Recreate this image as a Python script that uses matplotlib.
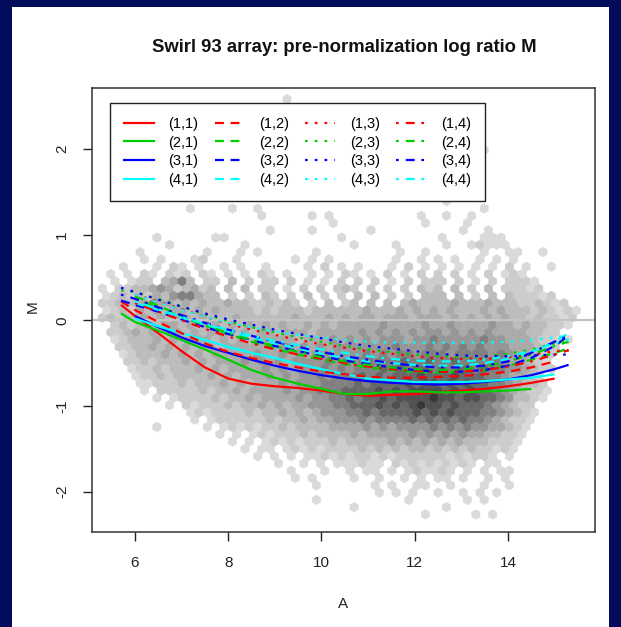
import numpy as np
import matplotlib
matplotlib.use("Agg")
import matplotlib.pyplot as plt
from matplotlib.colors import ListedColormap
from matplotlib.lines import Line2D
from matplotlib.patches import Rectangle

plt.rcParams['font.family'] = ['Liberation Sans', 'DejaVu Sans']

# ---------------- data ----------------
title = "Swirl 93 array: pre-normalization log ratio M"
x_label = "A"
y_label = "M"
x_ticks = [6, 8, 10, 12, 14]
y_ticks = [-2, -1, 0, 1, 2]

# hexbin background: grey level (1 light .. 9 dark) per hexagon, keyed by hex row
HEX_X0, HEX_DX = 5.3, 0.18      # column spacing in A
HEX_Y0, HEX_DY = -2.35, 0.085   # row spacing in M
hex_rows = {
    58: "..........|..........|..1.......",
    51: "..........|..........|..........|..........|.....1....",
    44: "..........|..........|..........|..........|.1........",
    43: "..........|1....1..1.|..........|..........|.....1....",
    42: "..........|.........1|.....1.1..|........1.|.1..1.....",
    41: "..........|..........|.......1..|........1.|...1......",
    40: "..........|..........|1....1....|..1.......|...1..1...",
    39: "......1...|...11.....|........1.|..........|1....111..",
    38: "........1.|.......1..|..........|1....1....|.1..12111.",
    37: "....1.....|..1...1.1.|.....1....|.....1..1.|.....1..11|..1.....",
    36: ".....1.1..|.12...1...|...1.1.1..|.....1..1.|1.1..1.1.1|........",
    35: "..1...1.21|.1..1.1..1|....1.2.1.|1...1.2.1.|1.1.1.1.2.|1..1....",
    34: ".1.1.21.21|2.21.1.1.2|1.1..1.1.2|1.1.2.1.2.|2.2.1.2.12|1.......",
    33: ".1.122.346|3.22.3.2.2|2.2.1.1.2.|2.2.1.2.22|2.2.1.2.22|21......",
    32: "1.22334542|3423.3.3.2|2.1.2.2.23|2.2.2.2.32|3.3.2.3.22|212.....",
    31: "1232324356|6433.2.2.3|2.2.3.2.2.|3.3.2.2.33|3.3.2.3.32|2212....",
    30: "2233345443|4343343322|3232.2.3.2|3.3.3.3433|3343334333|223212..",
    29: "1232434344|3434333323|2333233333|3433343434|3433343433|3232121.",
    28: "2323343434|4343334333|3334333434|3443444344|4343434343|3232212.",
    27: ".232343443|4344343434|3433434344|4445444454|4544445443|433221..",
    26: ".223434344|3434443434|4344434444|4545454545|5454545444|43322...",
    25: ".123334343|4443434344|4443444545|4545554556|5555565544|432211..",
    24: "..22334343|4344344444|4454545455|5555565556|5656565554|44322...",
    23: "..12333434|3434444454|4545455555|5656566566|6566665654|4322....",
    22: "...2232333|4343444545|4545555656|5666667667|6676666654|4321....",
    21: "...1223233|3434344445|4545556565|6667676776|7677676655|4322....",
    20: "....122323|3334343444|5454556566|6767677787|7787776654|432.....",
    19: "....112223|2333434344|4545556666|7677778788|7878776654|332.....",
    18: ".....1.222|2232334344|4454556667|7778787888|8787877654|3221....",
    17: "......1.12|2223233434|4445455667|6778788889|8878877653|321.....",
    16: "........1.|2122232334|3434455566|7778787898|8787776543|22......",
    15: "..........|1212222323|3434345556|6767777878|7877766543|21......",
    14: "..........|.1.1222222|3233434455|5656666767|6767665432|21......",
    13: "......1...|..1.121212|2323333444|4545455556|5656554432|1.......",
    12: "..........|....1.1.12|1222323333|4344444545|4545443322|1.......",
    11: "..........|.....1.1.1|2121222323|3333434343|4343332221|........",
    10: "..........|.......1.1|1.12121222|2323232332|3232322121|........",
    9:  "..........|........1.|1.1.112121|2212122222|2121221.1.|........",
    8:  "..........|..........|.1..1.1.11|1211.21212|12121.11..|........",
    7:  "..........|..........|..1...1..1|.11.1.1211|21.1.1.11.|........",
    6:  "..........|..........|...1.1....|1..1..1.1.|11.1..1.1.|........",
    5:  "..........|..........|.....1....|..1.1..11.|.1...1..1.|........",
    4:  "..........|..........|..........|...1.1.1..|1..1.1.1..|........",
    3:  "..........|..........|.....1....|......1...|...1.1....|........",
    2:  "..........|..........|..........|1.........|.1........|........",
    1:  "..........|..........|..........|........1.|....1.1...|........",
}

# loess curves, one per print-tip group (row, column)
curve_A = [5.7, 6.0, 6.5, 7.0, 7.5, 8.0, 8.5, 9.0, 9.5, 10.0, 10.5, 11.0,
           11.5, 12.0, 12.5, 13.0, 13.5, 14.0, 14.5, 15.0, 15.3]
nan = np.nan
curve_11 = [0.18, 0.05, -0.15, -0.36, -0.55, -0.68, -0.74, -0.77, -0.79, -0.82, -0.86, -0.88,
            -0.87, -0.86, -0.84, -0.82, -0.80, -0.77, -0.73, -0.68, nan]
curve_21 = [0.08, -0.02, -0.12, -0.23, -0.34, -0.46, -0.58, -0.67, -0.74, -0.80, -0.86, -0.86,
            -0.83, -0.83, -0.84, -0.84, -0.83, -0.82, -0.80, nan, nan]
curve_31 = [nan, 0.05, -0.08, -0.20, -0.30, -0.38, -0.46, -0.53, -0.59, -0.64, -0.68, -0.71,
            -0.73, -0.74, -0.75, -0.74, -0.72, -0.69, -0.64, -0.57, -0.52]
curve_41 = [nan, 0.02, -0.07, -0.15, -0.23, -0.31, -0.38, -0.44, -0.51, -0.57, -0.63, -0.68,
            -0.70, -0.72, -0.72, -0.72, -0.71, -0.69, -0.67, -0.63, nan]
curve_12 = [0.22, 0.12, -0.02, -0.15, -0.27, -0.37, -0.44, -0.50, -0.55, -0.60, -0.63, -0.66,
            -0.67, -0.67, -0.66, -0.65, -0.63, -0.60, -0.55, -0.48, nan]
curve_22 = [nan, 0.28, 0.17, 0.05, -0.06, -0.16, -0.25, -0.33, -0.40, -0.46, -0.51, -0.55,
            -0.58, -0.60, -0.61, -0.60, -0.58, -0.53, -0.46, -0.38, -0.33]
curve_32 = [0.23, 0.18, 0.10, 0.01, -0.08, -0.16, -0.23, -0.30, -0.36, -0.42, -0.47, -0.51,
            -0.55, -0.58, -0.60, -0.60, -0.58, -0.53, -0.44, -0.30, -0.18]
curve_42 = [nan, 0.20, 0.12, 0.03, -0.05, -0.13, -0.20, -0.27, -0.33, -0.39, -0.44, -0.48,
            -0.50, -0.52, -0.53, -0.53, -0.50, -0.45, -0.37, -0.25, -0.15]
curve_13 = [nan, 0.30, 0.22, 0.13, 0.04, -0.04, -0.11, -0.17, -0.23, -0.28, -0.32, -0.36,
            -0.39, -0.42, -0.44, -0.45, -0.45, -0.43, -0.40, -0.36, -0.35]
curve_23 = [0.35, 0.33, 0.25, 0.16, 0.07, -0.01, -0.08, -0.14, -0.20, -0.25, -0.30, -0.34,
            -0.37, -0.40, -0.42, -0.43, -0.42, -0.39, -0.34, -0.27, -0.24]
curve_33 = [0.38, 0.33, 0.24, 0.16, 0.08, 0.01, -0.05, -0.11, -0.16, -0.21, -0.26, -0.30,
            -0.33, -0.36, -0.39, -0.41, -0.42, -0.42, -0.41, -0.40, -0.40]
curve_43 = [nan, 0.30, 0.21, 0.12, 0.04, -0.03, -0.08, -0.13, -0.17, -0.20, -0.23, -0.25,
            -0.26, -0.26, -0.26, -0.26, -0.26, -0.25, -0.23, -0.20, -0.18]
curve_14 = [nan, 0.20, 0.10, 0.00, -0.10, -0.19, -0.27, -0.34, -0.40, -0.45, -0.50, -0.54,
            -0.57, -0.59, -0.60, -0.60, -0.58, -0.54, -0.48, -0.40, -0.35]
curve_24 = [nan, 0.25, 0.14, 0.04, -0.06, -0.15, -0.23, -0.30, -0.37, -0.43, -0.48, -0.52,
            -0.55, -0.57, -0.58, -0.57, -0.54, -0.48, -0.40, -0.30, -0.25]
curve_34 = [0.30, 0.25, 0.15, 0.06, -0.03, -0.11, -0.18, -0.25, -0.31, -0.37, -0.42, -0.46,
            -0.50, -0.53, -0.55, -0.55, -0.53, -0.48, -0.38, -0.25, -0.18]
curve_44 = [nan, 0.22, 0.13, 0.04, -0.04, -0.11, -0.18, -0.24, -0.29, -0.34, -0.38, -0.42,
            -0.45, -0.47, -0.48, -0.48, -0.46, -0.42, -0.36, -0.27, -0.22]

curve_labels = ["(1,1)", "(2,1)", "(3,1)", "(4,1)",
                "(1,2)", "(2,2)", "(3,2)", "(4,2)",
                "(1,3)", "(2,3)", "(3,3)", "(4,3)",
                "(1,4)", "(2,4)", "(3,4)", "(4,4)"]
curve_values = [curve_11, curve_21, curve_31, curve_41,
                curve_12, curve_22, curve_32, curve_42,
                curve_13, curve_23, curve_33, curve_43,
                curve_14, curve_24, curve_34, curve_44]

# ---------------- styles ----------------
row_colors = ["#ff0000", "#00cd00", "#0000ff", "#00ffff"]
col_styles = ["-", (0, (4, 3)), (0, (1.2, 3.2)), (0, (1.2, 3.2, 4, 3))]
grey_levels = [218, 204, 188, 170, 150, 128, 104, 80, 55]
NAVY = "#030b5c"

W, H = 621, 627
fig = plt.figure(figsize=(W / 100, H / 100), dpi=100)
fig.patch.set_facecolor(NAVY)
fig.patches.append(Rectangle((12 / W, 0), (609 - 12) / W, 1 - 7 / H,
                             transform=fig.transFigure, facecolor="white",
                             edgecolor="none", zorder=-5))

ax = fig.add_axes([92 / W, 1 - 532 / H, (595 - 92) / W, (532 - 88) / H])
ax.set_zorder(2)
ax.set_facecolor("white")

# hexagons
hx, hy, hv = [], [], []
for r, s in hex_rows.items():
    s = s.replace("|", "")
    for c, ch in enumerate(s):
        if ch.isdigit():
            hx.append(HEX_X0 + (c + 0.5 * (r % 2)) * HEX_DX)
            hy.append(HEX_Y0 + r * HEX_DY)
            hv.append(int(ch))
NX, NY = 58, 30
cmap = ListedColormap([(g / 255, g / 255, g / 255) for g in grey_levels])
ax.hexbin(hx, hy, C=hv, gridsize=(NX, NY),
          extent=(HEX_X0, HEX_X0 + NX * HEX_DX, HEX_Y0, HEX_Y0 + NY * 2 * HEX_DY),
          reduce_C_function=np.max, cmap=cmap, vmin=0.5, vmax=9.5,
          linewidths=0.3, edgecolors="face", zorder=1)

ax.axhline(0, color="#c4c4c4", lw=1.6, zorder=2)

handles = []
for k, (lab, vals) in enumerate(zip(curve_labels, curve_values)):
    color = row_colors[k % 4]
    ls = col_styles[k // 4]
    ax.plot(curve_A, vals, color=color, lw=1.6, ls=ls, zorder=3,
            solid_capstyle="butt", dash_capstyle="butt")
    handles.append(Line2D([], [], color=color, lw=1.6, ls=ls, dash_capstyle="butt"))

ax.set_xlim(5.078, 15.866)
ax.set_ylim(-2.47, 2.71)
ax.set_xticks(x_ticks)
ax.set_yticks(y_ticks)
ax.set_xticklabels([str(t) for t in x_ticks])
ax.set_yticklabels([str(t) for t in y_ticks], rotation=90, va="center")
ax.tick_params(axis="both", direction="out", length=6.5, width=1.0, color="#222222",
               labelsize=11, labelcolor="#222222")
ax.tick_params(axis="x", pad=11)
ax.tick_params(axis="y", pad=10)
for sp in ax.spines.values():
    sp.set_linewidth(1.1)
    sp.set_color("#333333")

fig.text(33 / W, 1 - 307 / H, y_label, rotation=90, ha="center", va="center",
         fontsize=11, color="#222222")
fig.text(343 / W, 1 - 604 / H, x_label, ha="center", va="center",
         fontsize=11, color="#222222")
fig.text(344 / W, 1 - 47 / H, title, ha="center", va="center",
         fontsize=13.3, fontweight="bold", color="#111111")

leg = ax.legend(handles, curve_labels, ncol=4, loc="upper left",
                bbox_to_anchor=(110 / W, 1 - 103 / H), bbox_transform=fig.transFigure,
                borderaxespad=0, frameon=True, fancybox=False, framealpha=1,
                edgecolor="#222222", fontsize=10.5, handlelength=2.05,
                handletextpad=1.0, columnspacing=1.12, labelspacing=0.32,
                borderpad=0.95)
leg.get_frame().set_linewidth(1.0)
leg.set_zorder(5)

fig.savefig("out.png", dpi=100, facecolor=fig.get_facecolor())
